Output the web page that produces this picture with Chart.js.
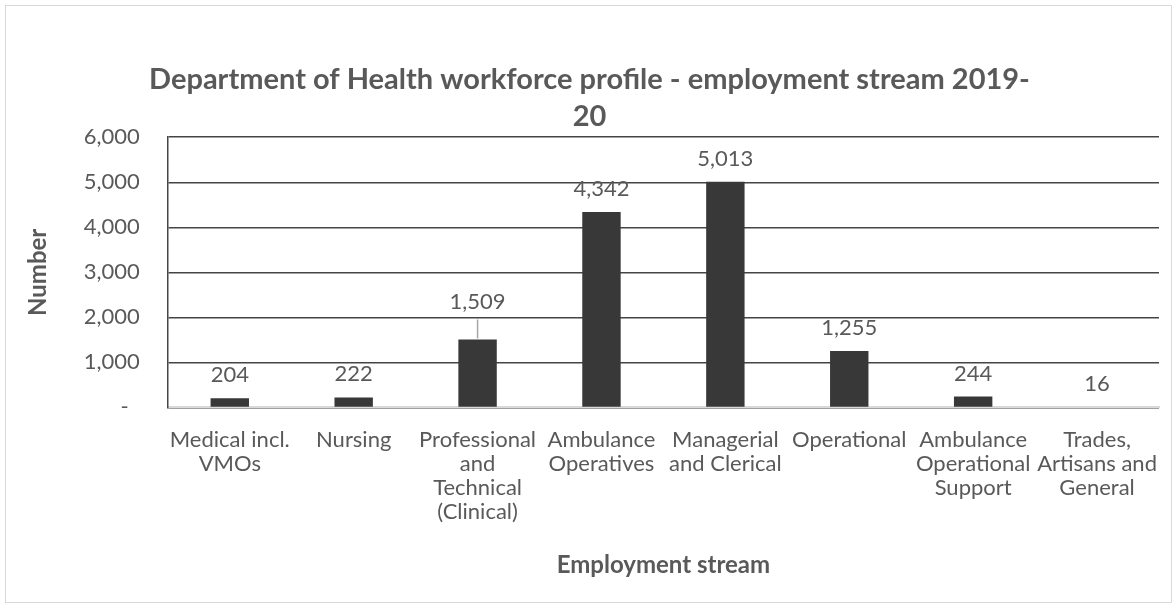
<!DOCTYPE html>
<html lang="en">
<head>
<meta charset="UTF-8">
<title>Department of Health workforce profile</title>
<script src="https://cdn.jsdelivr.net/npm/chart.js"></script>
<style>
  body { margin: 0; background: #fff; }
  .chart_area {
    position: absolute; left: 5px; top: 5px;
    width: 1165px; height: 596px;
    border: 1px solid #d9d9d9;
  }
</style>
</head>
<body>
<div class="chart_area">
  <canvas id="streamChart" width="1165" height="596"></canvas>
</div>

<script>
// values
const streams = [
  ['Medical incl.', 'VMOs'],
  ['Nursing'],
  ['Professional', 'and', 'Technical', '(Clinical)'],
  ['Ambulance', 'Operatives'],
  ['Managerial', 'and Clerical'],
  ['Operational'],
  ['Ambulance', 'Operational', 'Support'],
  ['Trades,', 'Artisans and', 'General']
];
const headcount = [204, 222, 1509, 4342, 5013, 1255, 244, 16];
const yTicks = [0, 1000, 2000, 3000, 4000, 5000, 6000];

const FONT = 'Lato, "Open Sans", sans-serif';
const TEXT = '#595959';

// draws value labels above the bars (1,509 gets a leader line like the original)
const valueLabels = {
  id: 'valueLabels',
  afterDatasetsDraw(chart) {
    const ctx = chart.ctx;
    const meta = chart.getDatasetMeta(0);
    ctx.save();
    ctx.font = '22px ' + FONT;
    ctx.fillStyle = TEXT;
    ctx.textAlign = 'center';
    ctx.textBaseline = 'middle';
    meta.data.forEach((bar, i) => {
      let y = bar.y - 23;
      if (i === 2) {
        y = bar.y - 38;
        ctx.strokeStyle = '#a6a6a6';
        ctx.lineWidth = 1.5;
        ctx.beginPath();
        ctx.moveTo(bar.x, bar.y - 1);
        ctx.lineTo(bar.x, bar.y - 20);
        ctx.stroke();
      }
      ctx.fillText(headcount[i].toLocaleString('en-US'), bar.x, y);
    });
    ctx.restore();
  }
};

const ctx = document.getElementById('streamChart').getContext('2d');
const streamChart = new Chart(ctx, {
  type: 'bar',
  data: {
    labels: streams,
    datasets: [{
      label: 'Number',
      data: headcount,
      backgroundColor: '#383838',
      barPercentage: 0.31,
      categoryPercentage: 1
    }]
  },
  options: {
    responsive: false,
    animation: false,
    layout: { padding: { left: 14, right: 12, top: 4, bottom: 22 } },
    plugins: {
      legend: { display: false },
      tooltip: { enabled: false },
      title: {
        display: true,
        text: ['Department of Health workforce profile - employment stream 2019-', '20'],
        color: TEXT,
        font: { family: FONT, size: 29, weight: 'bold', lineHeight: 1.28 },
        padding: { top: 51, bottom: 2 }
      }
    },
    scales: {
      x: {
        grid: { display: false },
        border: { color: '#d9d9d9', width: 2 },
        ticks: {
          color: TEXT,
          maxRotation: 0,
          autoSkip: false,
          padding: 12,
          font: { family: FONT, size: 22, lineHeight: 1.1 }
        },
        title: {
          display: true,
          text: 'Employment stream',
          color: TEXT,
          font: { family: FONT, size: 24, weight: 'bold' },
          padding: { top: 15, bottom: 0 }
        }
      },
      y: {
        min: 0,
        max: 6000,
        afterBuildTicks: axis => { axis.ticks = yTicks.map(v => ({ value: v })); },
        grid: { color: '#454545', lineWidth: 1.5, drawTicks: false },
        border: { color: '#454545', width: 1.5 },
        ticks: {
          color: TEXT,
          padding: 28,
          font: { family: FONT, size: 22 },
          callback: v => v === 0 ? '-  ' : v.toLocaleString('en-US')
        },
        title: {
          display: true,
          text: 'Number',
          color: TEXT,
          font: { family: FONT, size: 24, weight: 'bold' },
          padding: { bottom: 3 }
        }
      }
    }
  },
  plugins: [valueLabels]
});
</script>
</body>
</html>
